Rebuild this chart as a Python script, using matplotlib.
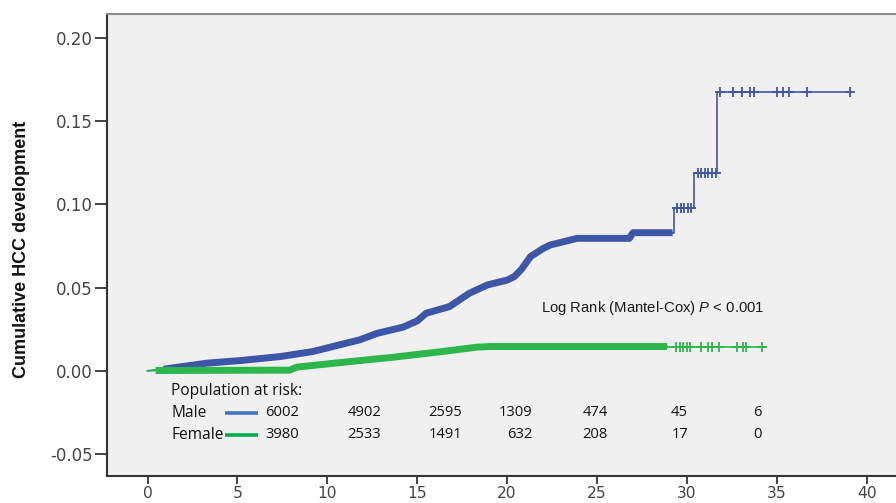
import numpy as np
import matplotlib
matplotlib.use("Agg")
import matplotlib.pyplot as plt
from matplotlib import font_manager

# ---------------- data ----------------
male_time = [0.0, 0.9, 3.3, 5.2, 7.4, 9.2, 10.9, 11.8, 12.8, 14.2, 15.0, 15.5, 16.8,
             17.4, 17.9, 18.9, 20.0, 20.4, 20.8, 21.3, 22.0, 22.4, 23.9, 26.8, 27.0,
             29.3, 30.4, 31.7]
male_cum = [0.0, 0.001, 0.0046, 0.0062, 0.0086, 0.0116, 0.0162, 0.0186, 0.0226,
            0.0262, 0.030, 0.0346, 0.0386, 0.043, 0.0466, 0.0516, 0.0545, 0.0566,
            0.061, 0.0686, 0.0735, 0.0756, 0.0796, 0.0796, 0.083, 0.0976, 0.1186,
            0.1676]
male_dense_start = 0.9
male_dense_end = 29.2
male_censor = [29.45, 29.65, 29.85, 30.05, 30.25, 30.6, 30.8, 31.0, 31.2, 31.4,
               31.6, 31.84, 32.58, 33.05, 33.51, 33.73, 35.0, 35.33, 35.7, 36.7, 39.07]
male_last = 39.07

female_time = [0.0, 0.45, 7.9, 8.3, 9.0, 11.3, 13.7, 16.4, 18.3, 19.1]
female_cum = [0.0, 0.0002, 0.0004, 0.0022, 0.003, 0.0056, 0.0082, 0.0116, 0.0142, 0.0146]
female_dense_start = 0.45
female_dense_end = 28.9
female_censor = [29.4, 29.6, 29.8, 30.0, 30.2, 30.8, 31.2, 31.4, 31.8, 32.8,
                 33.1, 33.3, 34.2]
female_last = 34.4

risk_groups = ["Male", "Female"]
risk_male = ["6002", "4902", "2595", "1309", "474", "45", "6"]
risk_female = ["3980", "2533", "1491", "632", "208", "17", "0"]

x_ticks = [0, 5, 10, 15, 20, 25, 30, 35, 40]
y_ticks = [-0.05, 0.00, 0.05, 0.10, 0.15, 0.20]
p_text = "Log Rank (Mantel-Cox) $\\it{P}$ < 0.001"

# ---------------- style ----------------
BLUE = "#3E56A8"
GREEN = "#2DB64A"
LEG_BLUE = "#4472C4"
LEG_GREEN = "#00B050"

plt.rcParams["mathtext.fontset"] = "custom"
plt.rcParams["mathtext.rm"] = "Liberation Sans"
plt.rcParams["mathtext.it"] = "Liberation Sans:italic"


def have_font(name):
    try:
        font_manager.findfont(font_manager.FontProperties(family=name),
                              fallback_to_default=False)
        return True
    except Exception:
        return False


narrow = have_font("Liberation Sans Narrow")

W, H = 896, 503
fig = plt.figure(figsize=(W / 100, H / 100), dpi=100)
ax = fig.add_axes([107 / W, 27 / H, (W - 107) / W, (476 - 14) / H])
ax.set_facecolor("#F0F0F0")

x0_px, px_per_unit = 147.5, 17.98
ax.set_xlim((107 - x0_px) / px_per_unit, (W - x0_px) / px_per_unit)
ax.set_ylim(-0.05 - 22 / 1667.0, 0.20 + 24 / 1667.0)


def step_value(times, cums, t):
    idx = np.searchsorted(np.asarray(times), t, side="right") - 1
    return np.asarray(cums)[idx]


def draw_curve(times, cums, start, end, censor, last, color, z):
    times = np.asarray(times)
    cums = np.asarray(cums)
    mask = times < end
    ax.plot(np.append(times[mask], end), np.append(cums[mask], cums[mask][-1]),
            color=color, lw=1.2, zorder=z)
    m2 = (times > start) & (times < end)
    xs = np.concatenate([[start], times[m2], [end]])
    ys = np.concatenate([[step_value(times, cums, start)], cums[m2],
                         [step_value(times, cums, end)]])
    ax.plot(xs, ys, color=color, lw=5.0, solid_capstyle="butt",
            solid_joinstyle="round", zorder=z)
    later = times > end
    xs2 = np.concatenate([[end], times[later], [last]])
    ys2 = np.concatenate([[step_value(times, cums, end)], cums[later],
                          [cums[-1]]])
    ax.plot(xs2, ys2, color=color, lw=1.2, drawstyle="steps-post", zorder=z)
    cy = [step_value(times, cums, c) for c in censor]
    ax.plot(censor, cy, ls="none", marker="+", ms=7, mew=1.3, color=color,
            zorder=z)


draw_curve(male_time, male_cum, male_dense_start, male_dense_end,
           male_censor, male_last, BLUE, 3)
draw_curve(female_time, female_cum, female_dense_start, female_dense_end,
           female_censor, female_last, GREEN, 4)

ax.text(21.9, 0.0378, p_text, fontsize=10.7, family="Liberation Sans",
        color="#1a1a1a", va="center", ha="left")

# population at risk table
lab_font = dict(family="Open Sans", fontsize=11.2, color="#111111", va="center")
num_font = dict(family="Open Sans", fontsize=10.6, color="#111111", va="center")
label_x = 1.31
row_y = [-0.0252, -0.0384]
col_x = [8.43, 12.99, 17.49, 21.38, 25.61, 30.06, 34.18]
ax.text(label_x, -0.0122, "Population at risk:", ha="left", **lab_font)
for name, vals, col, yy in zip(risk_groups, [risk_male, risk_female],
                               [LEG_BLUE, LEG_GREEN], row_y):
    ax.text(label_x, yy, name, ha="left", **lab_font)
    ax.plot([4.31, 6.15], [yy, yy], color=col, lw=2.6, solid_capstyle="butt",
            zorder=5)
    for cx, v in zip(col_x, vals):
        ax.text(cx, yy, v, ha="right", **num_font)

# axes styling
ax.set_xticks(x_ticks)
ax.set_yticks(y_ticks)
ax.set_yticklabels([f"{v:.2f}" for v in y_ticks])
ax.tick_params(axis="y", length=8.6, width=1.3, pad=1.5, labelsize=12,
               colors="#333333", labelcolor="#444444")
ax.tick_params(axis="x", length=6.0, width=1.3, pad=1.0, labelsize=11.2,
               colors="#333333", labelcolor="#444444")
for lab in ax.get_xticklabels() + ax.get_yticklabels():
    lab.set_family("DejaVu Sans")

ax.spines["right"].set_visible(False)
ax.spines["left"].set_color("#333333")
ax.spines["bottom"].set_color("#333333")
ax.spines["top"].set_color("#8a8a8a")
for s in ["left", "bottom", "top"]:
    ax.spines[s].set_linewidth(1.5)

if narrow:
    yl_font = dict(family="Liberation Sans Narrow", fontsize=15.5)
else:
    yl_font = dict(family="Liberation Sans", fontsize=13)
fig.text(22 / W, 1 - 249 / H, "Cumulative HCC development", rotation=90,
         ha="center", va="center", fontweight="bold", color="#111111",
         **yl_font)

fig.savefig("out.png", dpi=100, facecolor="white")
